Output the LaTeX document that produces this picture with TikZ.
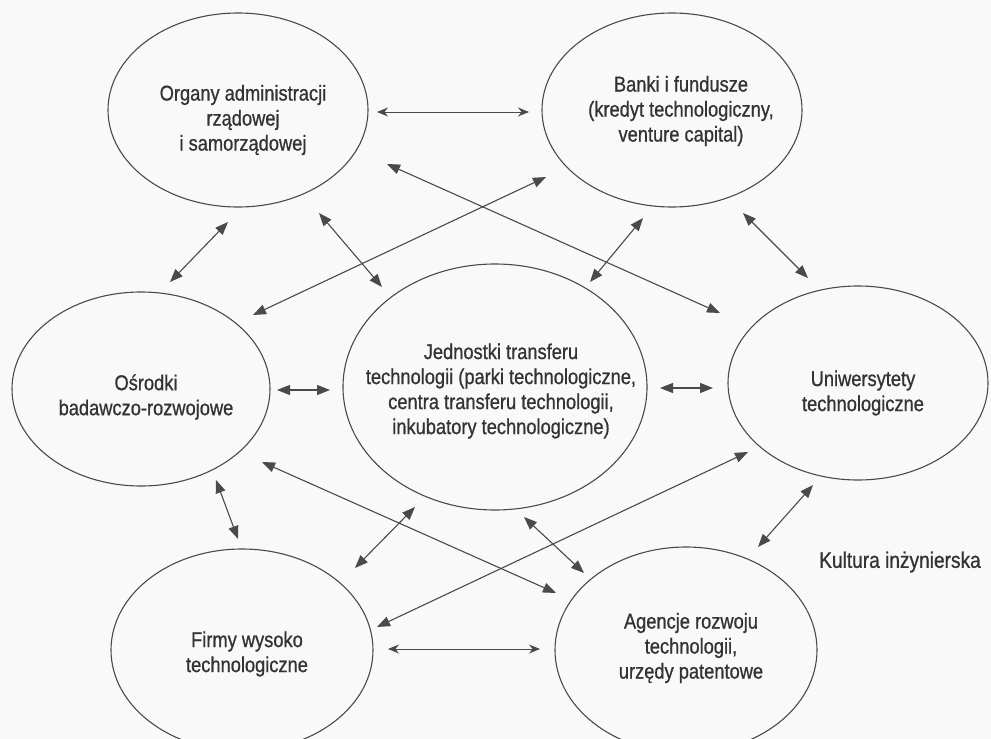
\documentclass[tikz,border=0pt]{standalone}
\usepackage{fontspec}
\setmainfont{Liberation Sans}[FakeStretch=0.85,FakeBold=0.8]
\usetikzlibrary{shapes.geometric,arrows.meta}
\definecolor{ink}{HTML}{333333}
\definecolor{linec}{HTML}{4A4A4A}
\definecolor{paper}{HTML}{F9F9F9}
\begin{document}
\begin{tikzpicture}[x=1pt,y=-1pt,
  ell/.style={draw=linec, line width=1.1pt, ellipse, inner sep=0pt},
  lbl/.style={text=ink, align=center, font=\fontsize{21.5}{25}\selectfont, inner sep=0pt},
  link/.style={draw=linec, line width=1.1pt,
    {Triangle[length=13pt,width=10pt]}-{Triangle[length=13pt,width=10pt]}},
  thinlink/.style={draw=linec, line width=0.9pt,
    {Stealth[length=11pt,width=9pt]}-{Stealth[length=11pt,width=9pt]}}
]
\useasboundingbox (0,0) rectangle (991,739);
\fill[paper] (0,0) rectangle (991,739);
\clip (0,0) rectangle (991,739);

% ellipses
\node[ell, minimum width=260pt, minimum height=194pt] (organy) at (238,110) {};
\node[ell, minimum width=260pt, minimum height=194pt] (banki) at (672,110) {};
\node[ell, minimum width=258pt, minimum height=194pt] (osrodki) at (141,389) {};
\node[ell, minimum width=304pt, minimum height=246pt] (jednostki) at (495,387) {};
\node[ell, minimum width=260pt, minimum height=194pt] (uniw) at (858,383) {};
\node[ell, minimum width=262pt, minimum height=202pt] (firmy) at (242,650) {};
\node[ell, minimum width=262pt, minimum height=206pt] (agencje) at (686,650) {};

% texts
\node[lbl] (torgany) at (243,120) {Organy administracji\\rządowej\\i samorządowej};
\node[lbl] (tbanki) at (681,111) {Banki i fundusze\\(kredyt technologiczny,\\venture capital)};
\node[lbl] (tosrodki) at (146,397) {Ośrodki\\badawczo-rozwojowe};
\node[lbl] (tjednostki) at (501,391) {Jednostki transferu\\technologii (parki technologiczne,\\centra transferu technologii,\\inkubatory technologiczne)};
\node[lbl] (tuniw) at (863,393) {Uniwersytety\\technologiczne};
\node[lbl] (tfirmy) at (247,654) {Firmy wysoko\\technologiczne};
\node[lbl] (tagencje) at (691,648) {Agencje rozwoju\\technologii,\\urzędy patentowe};
\node[lbl, font=\fontsize{22.5}{25}\selectfont] (kultura) at (900,562) {Kultura inżynierska};

% connector end points
\coordinate (c1a) at (377,112);  \coordinate (c1b) at (529,112);
\coordinate (c2a) at (228,222);  \coordinate (c2b) at (170,282);
\coordinate (c3a) at (319,213);  \coordinate (c3b) at (382,287);
\coordinate (c4a) at (253,315);  \coordinate (c4b) at (546,177);
\coordinate (c5a) at (387,164);  \coordinate (c5b) at (720,313);
\coordinate (c6a) at (643,218);  \coordinate (c6b) at (590,282);
\coordinate (c7a) at (743,213);  \coordinate (c7b) at (808,278);
\coordinate (c8a) at (277,390);  \coordinate (c8b) at (330,390);
\coordinate (c9a) at (660,388);  \coordinate (c9b) at (713,388);
\coordinate (c10a) at (262,462); \coordinate (c10b) at (556,593);
\coordinate (c11a) at (216,480); \coordinate (c11b) at (238,539);
\coordinate (c12a) at (355,568); \coordinate (c12b) at (415,507);
\coordinate (c13a) at (377,627); \coordinate (c13b) at (748,452);
\coordinate (c14a) at (524,517); \coordinate (c14b) at (584,573);
\coordinate (c15a) at (813,485); \coordinate (c15b) at (758,547);
\coordinate (c16a) at (388,649); \coordinate (c16b) at (540,649);

% connectors
\draw[thinlink] (c1a) -- (c1b);
\draw[link] (c2a) -- (c2b);
\draw[link] (c3a) -- (c3b);
\draw[link] (c4a) -- (c4b);
\draw[link] (c5a) -- (c5b);
\draw[link] (c6a) -- (c6b);
\draw[link] (c7a) -- (c7b);
\draw[link] (c8a) -- (c8b);
\draw[link] (c9a) -- (c9b);
\draw[link] (c10a) -- (c10b);
\draw[link] (c11a) -- (c11b);
\draw[link] (c12a) -- (c12b);
\draw[link] (c13a) -- (c13b);
\draw[link] (c14a) -- (c14b);
\draw[link] (c15a) -- (c15b);
\draw[thinlink] (c16a) -- (c16b);
\end{tikzpicture}
\end{document}
